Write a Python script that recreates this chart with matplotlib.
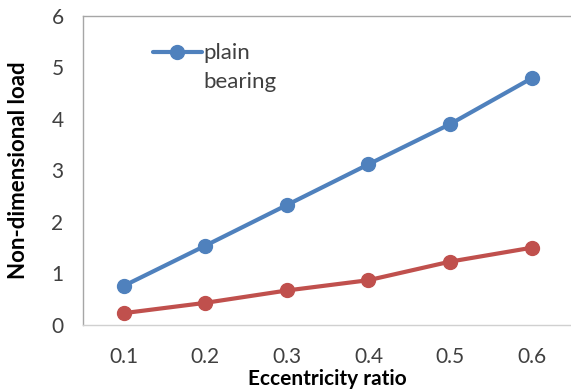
import matplotlib
matplotlib.use("Agg")
import matplotlib.pyplot as plt

# Eccentricity ratio categories and non-dimensional load values
categories = ["0.1", "0.2", "0.3", "0.4", "0.5", "0.6"]
plain_bearing = [0.76, 1.54, 2.33, 3.12, 3.90, 4.79]
second_series = [0.23, 0.43, 0.67, 0.87, 1.23, 1.50]
y_ticks = [0, 1, 2, 3, 4, 5, 6]

plt.rcParams["font.family"] = ["Lato", "DejaVu Sans"]

fig = plt.figure(figsize=(5.71, 3.90), dpi=100)
ax = fig.add_axes([0.1454, 0.1667, 0.857, 0.7923])

x = list(range(len(categories)))
blue = "#4F81BD"
red = "#C0504D"
text_grey = "#404040"

ax.plot(x, plain_bearing, color=blue, lw=3, marker="o", markersize=10,
        label="plain", solid_capstyle="round")
ax.plot(x, second_series, color=red, lw=3, marker="o", markersize=10,
        solid_capstyle="round")

ax.set_xlim(-0.5, len(categories) - 0.5)
ax.set_ylim(0, 6)
ax.set_xticks(x)
ax.set_xticklabels(categories)
ax.set_yticks(y_ticks)
ax.tick_params(axis="both", length=0, labelsize=15, colors=text_grey)
ax.tick_params(axis="x", pad=16)
ax.tick_params(axis="y", pad=14)

for side in ("left", "top", "bottom"):
    ax.spines[side].set_color("#A6A6A6")
    ax.spines[side].set_linewidth(1.0)
ax.spines["bottom"].set_color("#D0D0D0")
ax.spines["right"].set_visible(False)

ax.set_xlabel("Eccentricity ratio", fontsize=15, fontweight="bold", labelpad=1)
ax.set_ylabel("Non-dimensional load", fontsize=16, fontweight="bold", labelpad=16)

# Legend entry with its label wrapped onto a second line below the first
leg = ax.legend(loc="upper left", bbox_to_anchor=(0.102, 0.976), frameon=False,
                fontsize=16, handlelength=2.2, handletextpad=0.05,
                labelcolor=text_grey)
fig.canvas.draw()
first = leg.get_texts()[0]
bb = first.get_window_extent().transformed(ax.transAxes.inverted())
ax.text(bb.x0, bb.y0 - 0.092, "bearing", transform=ax.transAxes,
        fontsize=16, color=text_grey, ha="left", va="bottom")

fig.savefig("out.png", dpi=100)
